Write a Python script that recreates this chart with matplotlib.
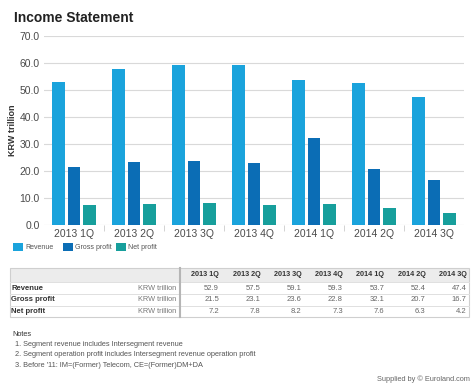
import matplotlib.pyplot as plt
import numpy as np
from matplotlib.patches import Rectangle

plt.rcParams["font.family"] = ["Liberation Sans", "DejaVu Sans"]

quarters = ["2013 1Q", "2013 2Q", "2013 3Q", "2013 4Q", "2014 1Q", "2014 2Q", "2014 3Q"]
revenue = [52.9, 57.5, 59.1, 59.3, 53.7, 52.4, 47.4]
gross_profit = [21.5, 23.1, 23.6, 22.8, 32.1, 20.7, 16.7]
net_profit = [7.2, 7.8, 8.2, 7.3, 7.6, 6.3, 4.2]
series_names = ["Revenue", "Gross profit", "Net profit"]
unit = "KRW trillion"
notes = [
    "1. Segment revenue includes Intersegment revenue",
    "2. Segment operation profit includes Intersegment revenue operation profit",
    "3. Before '11: IM=(Former) Telecom, CE=(Former)DM+DA",
]

colors = ["#1aa3dc", "#0b6db5", "#179f9c"]
W, H = 474, 384

fig = plt.figure(figsize=(W / 100, H / 100), dpi=100)

def fx(px):
    return px / W

def fy(py):
    return 1 - py / H

ax = fig.add_axes([fx(44), fy(224.7), fx(464 - 44), fy(35.7) - fy(224.7)])
x = np.arange(len(quarters))
bw = 0.21
off = 0.26
for i, (vals, c) in enumerate(zip([revenue, gross_profit, net_profit], colors)):
    ax.bar(x + (i - 1) * off, vals, width=bw, color=c, zorder=3)

ax.set_xlim(-0.5, len(quarters) - 0.5)
ax.set_ylim(0, 70)
ax.set_yticks(np.arange(0, 71, 10))
ax.set_yticklabels([f"{v:.1f}" for v in np.arange(0, 71, 10)], fontsize=7.5, color="#4a4a4a")
ax.set_xticks(x)
ax.set_xticklabels(quarters, fontsize=7.5, color="#4a4a4a")
ax.set_xticks(np.arange(0.5, len(quarters) - 1, 1), minor=True)
ax.tick_params(axis="x", which="major", length=0, pad=3)
ax.tick_params(axis="x", which="minor", length=4, color="#cccccc")
ax.tick_params(axis="y", length=0, pad=3)
ax.grid(axis="y", color="#d9d9d9", linewidth=0.8, zorder=0)
for s in ax.spines.values():
    s.set_visible(False)
ax.set_ylabel(unit, fontsize=6.5, fontweight="bold", color="#333333")
ax.yaxis.set_label_coords((17 - 44) / 420, 0.5)

# title
fig.text(fx(14), fy(18), "Income Statement", fontsize=10, fontweight="bold",
         color="#222222", va="center", ha="left")

# legend
leg_x = [13, 63, 116]
for name, c, lx in zip(series_names, colors, leg_x):
    fig.patches.append(Rectangle((fx(lx), fy(251)), fx(10), fy(243) - fy(251),
                                 transform=fig.transFigure, facecolor=c,
                                 edgecolor="none"))
    fig.text(fx(lx + 12), fy(247.5), name, fontsize=5.0, color="#555555",
             va="center", ha="left")

# table
tl, tr = 10, 469
row_y = [268, 282, 294, 305.5, 317]
fig.patches.append(Rectangle((fx(tl), fy(282)), fx(tr - tl), fy(268) - fy(282),
                             transform=fig.transFigure, facecolor="#ececec",
                             edgecolor="none"))
fig.patches.append(Rectangle((fx(tl), fy(317)), fx(tr - tl), fy(268) - fy(317),
                             transform=fig.transFigure, facecolor="none",
                             edgecolor="#cfcfcf", linewidth=0.8))
for ry in row_y[1:-1]:
    fig.add_artist(plt.Line2D([fx(tl), fx(tr)], [fy(ry), fy(ry)],
                              color="#e0e0e0", linewidth=0.7))
fig.add_artist(plt.Line2D([fx(180), fx(180)], [fy(268), fy(317)],
                          color="#b5b5b5", linewidth=1.5))

col_right = [219 + 41.3 * i for i in range(len(quarters))]
for q, cr in zip(quarters, col_right):
    fig.text(fx(cr), fy(275), q, fontsize=5.2, fontweight="bold",
             color="#333333", ha="right", va="center")
for r, (name, vals) in enumerate(zip(series_names, [revenue, gross_profit, net_profit])):
    yc = (row_y[r + 1] + row_y[r + 2]) / 2
    fig.text(fx(11), fy(yc), name, fontsize=5.5, fontweight="bold",
             color="#333333", ha="left", va="center")
    fig.text(fx(176), fy(yc), unit, fontsize=5.3, color="#777777",
             ha="right", va="center")
    for v, cr in zip(vals, col_right):
        fig.text(fx(cr), fy(yc), f"{v:.1f}", fontsize=5.5, color="#666666",
                 ha="right", va="center")

# notes
fig.text(fx(12), fy(335), "Notes", fontsize=5.3, color="#333333",
         ha="left", va="center")
for i, n in enumerate(notes):
    fig.text(fx(15), fy(344.5 + 10.3 * i), n, fontsize=5.3, color="#555555",
             ha="left", va="center")
fig.text(fx(470), fy(379), "Supplied by \u00a9 Euroland.com", fontsize=5.3,
         color="#666666", ha="right", va="center")

fig.savefig("out.png", dpi=100)
